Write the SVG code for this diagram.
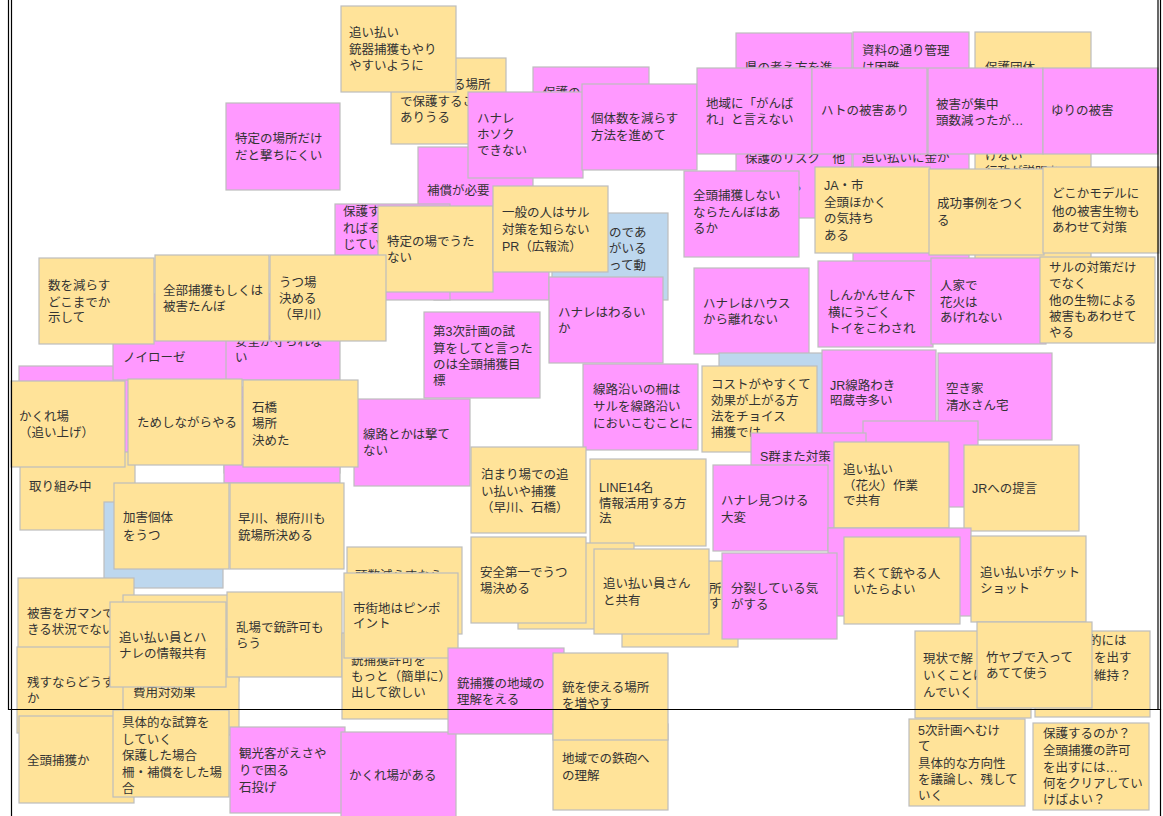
<svg xmlns="http://www.w3.org/2000/svg" width="1163" height="816" viewBox="0 0 1163 816">
<style>
rect.y{fill:#FFE399;stroke:#BDBDBD;stroke-width:1.2}
rect.p{fill:#FF99FF;stroke:#BDBDBD;stroke-width:1.2}
rect.b{fill:#BDD7EE;stroke:#BDBDBD;stroke-width:1.2}
text{font-family:"Liberation Sans","Noto Sans CJK JP",sans-serif;font-size:12.5px;fill:#333}
.frame{stroke:#000;stroke-width:1.2;fill:none}
</style>
<rect width="1163" height="816" fill="#fff"/>
<g id="notes">
<g id="n_basho"><rect class="y" x="391" y="58" width="115" height="86"/><text><tspan x="453" y="89">る場所</tspan><tspan x="400" y="105.5">で保護するこ</tspan><tspan x="400" y="122">ありうる</tspan></text></g>
<g id="n_oiharai_juki"><rect class="y" x="341" y="6" width="115" height="86"/><text><tspan x="349" y="37">追い払い</tspan><tspan x="349" y="53.5">銃器捕獲もやり</tspan><tspan x="349" y="70">やすいように</tspan></text></g>
<g id="n_hogono"><rect class="p" x="533" y="67" width="116" height="86"/><text><tspan x="543" y="97">保護の</tspan></text></g>
<g id="n_hosho"><rect class="p" x="418" y="147" width="115" height="86"/><text><tspan x="427" y="195">補償が必要</tspan></text></g>
<g id="n_hanare_hosoku"><rect class="p" x="468" y="92" width="115" height="86"/><text><tspan x="477" y="123">ハナレ</tspan><tspan x="477" y="139">ホソク</tspan><tspan x="477" y="155">できない</tspan></text></g>
<g id="n_kotaisu"><rect class="p" x="582" y="84" width="115" height="86"/><text><tspan x="591" y="123">個体数を減らす</tspan><tspan x="591" y="139.5">方法を進めて</tspan></text></g>
<g id="n_pink_p2"><rect class="p" x="434" y="214" width="115" height="86"/></g>
<g id="n_hogosu"><rect class="p" x="335" y="204" width="115" height="96"/><text><tspan x="343" y="216">保護す</tspan><tspan x="343" y="233">ればそ</tspan><tspan x="343" y="249">じてい</tspan></text></g>
<g id="n_blue1"><rect class="b" x="552" y="213" width="116" height="87"/><text><tspan x="609" y="237">のであ</tspan><tspan x="609" y="253">がいる</tspan><tspan x="609" y="270">って動</tspan></text></g>
<g id="n_tokutei_ba"><rect class="y" x="378" y="206" width="115" height="86"/><text><tspan x="387" y="246">特定の場でうた</tspan><tspan x="387" y="262">ない</tspan></text></g>
<g id="n_ippan"><rect class="y" x="493" y="186" width="115" height="86"/><text><tspan x="502" y="217">一般の人はサル</tspan><tspan x="502" y="234">対策を知らない</tspan><tspan x="502" y="251">PR（広報流）</tspan></text></g>
<g id="n_tokutei_basho"><rect class="p" x="226" y="103" width="114" height="87"/><text><tspan x="235" y="143">特定の場所だけ</tspan><tspan x="235" y="160">だと撃ちにくい</tspan></text></g>

<g id="n_ken"><rect class="p" x="736" y="33" width="116" height="185"/><text><tspan x="745" y="72">県の考え方を進</tspan><tspan x="745" y="163">保護のリスク　他</tspan><tspan x="791" y="196">？</tspan></text></g>
<g id="n_shiryo"><rect class="p" x="853" y="32" width="116" height="233"/><text><tspan x="862" y="55">資料の通り管理</tspan><tspan x="862" y="71.5">は困難</tspan><tspan x="862" y="162">追い払いに金か</tspan></text></g>
<g id="n_hogodantai"><rect class="y" x="975" y="32" width="116" height="230"/><text><tspan x="985" y="72">保護団体</tspan><tspan x="985" y="160">けない</tspan><tspan x="985" y="176">行政が説明を</tspan></text></g>
<g id="n_chiiki"><rect class="p" x="697" y="68" width="115" height="86"/><text><tspan x="706" y="108">地域に「がんば</tspan><tspan x="706" y="124">れ」と言えない</tspan></text></g>
<g id="n_hato"><rect class="p" x="812" y="68" width="115" height="86"/><text><tspan x="821" y="115">ハトの被害あり</tspan></text></g>
<g id="n_higai_shuchu"><rect class="p" x="928" y="68" width="115" height="86"/><text><tspan x="936" y="109">被害が集中</tspan><tspan x="936" y="125">頭数減ったが…</tspan></text></g>
<g id="n_yuri"><rect class="p" x="1043" y="68" width="115" height="86"/><text><tspan x="1051" y="115">ゆりの被害</tspan></text></g>
<g id="n_zentou_shinai"><rect class="p" x="684" y="171" width="115" height="86"/><text><tspan x="693" y="200">全頭捕獲しない</tspan><tspan x="693" y="217">ならたんぼはあ</tspan><tspan x="693" y="233">るか</tspan></text></g>
<g id="n_ja"><rect class="y" x="815" y="167" width="115" height="86"/><text><tspan x="824" y="190">JA・市</tspan><tspan x="824" y="207">全頭ほかく</tspan><tspan x="824" y="223">の気持ち</tspan><tspan x="824" y="240">ある</tspan></text></g>
<g id="n_seiko"><rect class="y" x="929" y="169" width="115" height="86"/><text><tspan x="937" y="208">成功事例をつく</tspan><tspan x="937" y="225">る</tspan></text></g>
<g id="n_model"><rect class="y" x="1043" y="167" width="116" height="86"/><text><tspan x="1052" y="198">どこかモデルに</tspan><tspan x="1052" y="216">他の被害生物も</tspan><tspan x="1052" y="232">あわせて対策</tspan></text></g>

<g id="n_torikumi"><rect class="y" x="20" y="443" width="115" height="87"/><text><tspan x="29" y="491">取り組み中</tspan></text></g>
<g id="n_pink31"><rect class="p" x="19" y="366" width="116" height="86"/></g>
<g id="n_neurose"><rect class="p" x="113" y="294" width="116" height="86"/><text><tspan x="123" y="362">ノイローゼ</tspan></text></g>
<g id="n_anzen"><rect class="p" x="226" y="294" width="114" height="86"/><text><tspan x="235" y="346">安全が守られな</tspan><tspan x="235" y="362">い</tspan></text></g>
<g id="n_kazu"><rect class="y" x="39" y="258" width="115" height="86"/><text><tspan x="48" y="290">数を減らす</tspan><tspan x="48" y="307">どこまでか</tspan><tspan x="48" y="322">示して</tspan></text></g>
<g id="n_zenbu"><rect class="y" x="155" y="255" width="114" height="86"/><text><tspan x="163" y="295">全部捕獲もしくは</tspan><tspan x="163" y="311">被害たんぼ</tspan></text></g>
<g id="n_utsuba"><rect class="y" x="270" y="255" width="116" height="86"/><text><tspan x="279" y="287">うつ場</tspan><tspan x="279" y="303">決める</tspan><tspan x="279" y="319">（早川）</tspan></text></g>
<g id="n_hanare_warui"><rect class="p" x="549" y="277" width="114" height="86"/><text><tspan x="558" y="317">ハナレはわるい</tspan><tspan x="558" y="333">か</tspan></text></g>
<g id="n_hanare_house"><rect class="p" x="694" y="268" width="115" height="86"/><text><tspan x="703" y="308">ハナレはハウス</tspan><tspan x="703" y="324">から離れない</tspan></text></g>
<g id="n_shinkansen"><rect class="p" x="818" y="261" width="115" height="86"/><text><tspan x="828" y="300">しんかんせん下</tspan><tspan x="828" y="317">横にうごく</tspan><tspan x="828" y="333">トイをこわされ</tspan></text></g>
<g id="n_jinka"><rect class="p" x="931" y="258" width="115" height="86"/><text><tspan x="940" y="290">人家で</tspan><tspan x="940" y="307">花火は</tspan><tspan x="940" y="322">あげれない</tspan></text></g>
<g id="n_saru"><rect class="y" x="1040" y="257" width="115" height="86"/><text><tspan x="1049" y="272">サルの対策だけ</tspan><tspan x="1049" y="288">でなく</tspan><tspan x="1049" y="305">他の生物による</tspan><tspan x="1049" y="321">被害もあわせて</tspan><tspan x="1049" y="337">やる</tspan></text></g>
<g id="n_dai3ji"><rect class="p" x="424" y="312" width="116" height="86"/><text><tspan x="433" y="336">第3次計画の試</tspan><tspan x="433" y="353">算をしてと言った</tspan><tspan x="433" y="369">のは全頭捕獲目</tspan><tspan x="433" y="385">標</tspan></text></g>
<g id="n_senro_saku"><rect class="p" x="583" y="364" width="115" height="86"/><text><tspan x="593" y="394">線路沿いの柵は</tspan><tspan x="593" y="411">サルを線路沿い</tspan><tspan x="593" y="428">においこむことに</tspan></text></g>
<g id="n_blue2"><rect class="b" x="719" y="353" width="115" height="86"/></g>
<g id="n_cost"><rect class="y" x="702" y="366" width="115" height="86"/><text><tspan x="711" y="389">コストがやすくて</tspan><tspan x="711" y="405">効果が上がる方</tspan><tspan x="711" y="421">法をチョイス</tspan><tspan x="711" y="437">捕獲では</tspan></text></g>
<g id="n_jr_senro"><rect class="p" x="822" y="350" width="114" height="86"/><text><tspan x="830" y="390">JR線路わき</tspan><tspan x="830" y="405">昭蔵寺多い</tspan></text></g>
<g id="n_akiya"><rect class="p" x="938" y="353" width="114" height="87"/><text><tspan x="946" y="393">空き家</tspan><tspan x="946" y="410">清水さん宅</tspan></text></g>
<g id="n_pink_q1"><rect class="p" x="863" y="421" width="115" height="86"/></g>
<g id="n_sgun"><rect class="p" x="751" y="433" width="115" height="95"/><text><tspan x="760" y="461">S群また対策</tspan></text></g>
<g id="n_hanabi"><rect class="y" x="834" y="442" width="115" height="86"/><text><tspan x="843" y="474">追い払い</tspan><tspan x="843" y="490">（花火）作業</tspan><tspan x="843" y="505">で共有</tspan></text></g>
<g id="n_jr_teigen"><rect class="y" x="964" y="445" width="115" height="86"/><text><tspan x="972" y="493">JRへの提言</tspan></text></g>
<g id="n_hanare_mitsukeru"><rect class="p" x="713" y="465" width="115" height="86"/><text><tspan x="721" y="505">ハナレ見つける</tspan><tspan x="721" y="522">大変</tspan></text></g>
<g id="n_line"><rect class="y" x="590" y="459" width="116" height="87"/><text><tspan x="599" y="492">LINE14名</tspan><tspan x="599" y="508">情報活用する方</tspan><tspan x="599" y="523">法</tspan></text></g>
<g id="n_tomariba"><rect class="y" x="471" y="447" width="115" height="86"/><text><tspan x="481" y="479">泊まり場での追</tspan><tspan x="481" y="496">い払いや捕獲</tspan><tspan x="481" y="512">（早川、石橋）</tspan></text></g>
<g id="n_senro_utenai"><rect class="p" x="354" y="399" width="116" height="87"/><text><tspan x="363" y="439">線路とかは撃て</tspan><tspan x="363" y="455">ない</tspan></text></g>
<g id="n_pink48"><rect class="p" x="224" y="387" width="116" height="86"/></g>
<g id="n_pink49"><rect class="p" x="224" y="397" width="116" height="86"/></g>
<g id="n_ishibashi"><rect class="y" x="243" y="380" width="115" height="87"/><text><tspan x="252" y="412">石橋</tspan><tspan x="252" y="428">場所</tspan><tspan x="252" y="445">決めた</tspan></text></g>
<g id="n_tameshi"><rect class="y" x="128" y="379" width="114" height="86"/><text><tspan x="137" y="427">ためしながらやる</tspan></text></g>
<g id="n_kakureba"><rect class="y" x="11" y="381" width="114" height="86"/><text><tspan x="19" y="421">かくれ場</tspan><tspan x="19" y="437">（追い上げ）</tspan></text></g>
<g id="n_blue3"><rect class="b" x="104" y="502" width="119" height="86"/></g>
<g id="n_kagai"><rect class="y" x="114" y="483" width="115" height="86"/><text><tspan x="123" y="522">加害個体</tspan><tspan x="123" y="540">をうつ</tspan></text></g>
<g id="n_hayakawa"><rect class="y" x="230" y="483" width="114" height="86"/><text><tspan x="238" y="523">早川、根府川も</tspan><tspan x="238" y="540">銃場所決める</tspan></text></g>

<g id="n_gaman"><rect class="y" x="18" y="578" width="116" height="86"/><text><tspan x="27" y="618">被害をガマンで</tspan><tspan x="27" y="634">きる状況でない</tspan></text></g>
<g id="n_y59"><rect class="y" x="123" y="595" width="116" height="86"/></g>
<g id="n_nokosu"><rect class="y" x="17" y="647" width="116" height="86"/><text><tspan x="27" y="687">残すならどうす</tspan><tspan x="27" y="703">か</tspan></text></g>
<g id="n_hiyo"><rect class="y" x="123" y="649" width="116" height="86"/><text><tspan x="133" y="697">費用対効果</tspan></text></g>
<g id="n_oiharaiin_hanare"><rect class="y" x="110" y="602" width="116" height="85"/><text><tspan x="119" y="642">追い払い員とハ</tspan><tspan x="119" y="658">ナレの情報共有</tspan></text></g>
<g id="n_ranba"><rect class="y" x="227" y="592" width="115" height="85"/><text><tspan x="236" y="632">乱場で銃許可も</tspan><tspan x="236" y="648">らう</tspan></text></g>
<g id="n_zentou_ka"><rect class="y" x="19" y="716" width="115" height="87"/><text><tspan x="27" y="765">全頭捕獲か</tspan></text></g>
<g id="n_gutaiteki"><rect class="y" x="113" y="710" width="116" height="87"/><text><tspan x="122" y="727">具体的な試算を</tspan><tspan x="122" y="743.5">していく</tspan><tspan x="122" y="760">保護した場合</tspan><tspan x="122" y="776.5">柵・補償をした場</tspan><tspan x="122" y="793">合</tspan></text></g>
<g id="n_kankokyaku"><rect class="p" x="230" y="727" width="115" height="86"/><text><tspan x="239" y="758">観光客がえさや</tspan><tspan x="239" y="775">りで困る</tspan><tspan x="239" y="792">石投げ</tspan></text></g>
<g id="n_tosu"><rect class="y" x="347" y="547" width="115" height="87"/><text><tspan x="355" y="580">頭数減らすなら</tspan></text></g>
<g id="n_kyoka"><rect class="y" x="342" y="633" width="115" height="86"/><text><tspan x="351" y="665">銃捕獲許可を</tspan><tspan x="351" y="681">もっと（簡単に）</tspan><tspan x="351" y="697">出して欲しい</tspan></text></g>
<g id="n_shigaichi"><rect class="y" x="344" y="573" width="114" height="85"/><text><tspan x="353" y="613">市街地はピンポ</tspan><tspan x="353" y="628">イント</tspan></text></g>
<g id="n_kakureba_aru"><rect class="p" x="341" y="732" width="115" height="86"/><text><tspan x="349" y="780">かくれ場がある</tspan></text></g>
<g id="n_ju_chiiki"><rect class="p" x="448" y="648" width="116" height="86"/><text><tspan x="457" y="688">銃捕獲の地域の</tspan><tspan x="457" y="704">理解をえる</tspan></text></g>
<g id="n_teppo"><rect class="y" x="553" y="724" width="115" height="86"/><text><tspan x="562" y="763">地域での鉄砲へ</tspan><tspan x="562" y="780">の理解</tspan></text></g>
<g id="n_ju_basho"><rect class="y" x="553" y="653" width="115" height="87"/><text><tspan x="562" y="692">銃を使える場所</tspan><tspan x="562" y="708">を増やす</tspan></text></g>
<g id="n_y72"><rect class="y" x="518" y="543" width="116" height="86"/></g>
<g id="n_anzen_daiichi"><rect class="y" x="471" y="537" width="115" height="86"/><text><tspan x="480" y="577">安全第一でうつ</tspan><tspan x="480" y="593">場決める</tspan></text></g>
<g id="n_y73"><rect class="y" x="622" y="561" width="116" height="86"/><text><tspan x="709" y="593">所</tspan><tspan x="709" y="608">す</tspan></text></g>
<g id="n_oiharaiin_san"><rect class="y" x="594" y="549" width="115" height="85"/><text><tspan x="603" y="588">追い払い員さん</tspan><tspan x="603" y="605">と共有</tspan></text></g>
<g id="n_pink_q2"><rect class="p" x="828" y="528" width="143" height="88"/></g>
<g id="n_bunretsu"><rect class="p" x="722" y="553" width="115" height="86"/><text><tspan x="731" y="593">分裂している気</tspan><tspan x="731" y="609">がする</tspan></text></g>
<g id="n_wakakute"><rect class="y" x="844" y="537" width="116" height="87"/><text><tspan x="853" y="578">若くて銃やる人</tspan><tspan x="853" y="594">いたらよい</tspan></text></g>
<g id="n_pocket"><rect class="y" x="971" y="536" width="115" height="86"/><text><tspan x="980" y="577">追い払いポケット</tspan><tspan x="980" y="593">ショット</tspan></text></g>
<g id="n_genjo"><rect class="y" x="915" y="631" width="116" height="87"/><text><tspan x="923" y="663">現状で解</tspan><tspan x="923" y="680">いくことは</tspan><tspan x="923" y="697">んでいく</tspan></text></g>
<g id="n_tekiniha"><rect class="y" x="1035" y="631" width="115" height="86"/><text><tspan x="1089" y="645">的には</tspan><tspan x="1094" y="662">を出す</tspan><tspan x="1094" y="680">維持？</tspan></text></g>
<g id="n_takeyabu"><rect class="y" x="977" y="622" width="115" height="86"/><text><tspan x="986" y="662">竹ヤブで入って</tspan><tspan x="986" y="678">あてて使う</tspan></text></g>
<g id="n_5ji"><rect class="y" x="909" y="719" width="116" height="87"/><text><tspan x="918" y="735">5次計画へむけ</tspan><tspan x="918" y="751">て</tspan><tspan x="918" y="768">具体的な方向性</tspan><tspan x="918" y="784">を議論し、残して</tspan><tspan x="918" y="800">いく</tspan></text></g>
<g id="n_hogosuru"><rect class="y" x="1033" y="723" width="116" height="87"/><text><tspan x="1043" y="738">保護するのか？</tspan><tspan x="1043" y="755">全頭捕獲の許可</tspan><tspan x="1043" y="772">を出すには…</tspan><tspan x="1043" y="788">何をクリアしてい</tspan><tspan x="1043" y="804">けばよい？</tspan></text></g>
</g>
<g id="connectors"></g>
<g id="frame">
<path class="frame" d="M8.5 0V709.5H1160.5V0"/>
<path class="frame" d="M11.5 0V816"/>
<path class="frame" d="M1158 0V709"/>
<path class="frame" d="M1160.5 709V816"/>
</g>
</svg>
